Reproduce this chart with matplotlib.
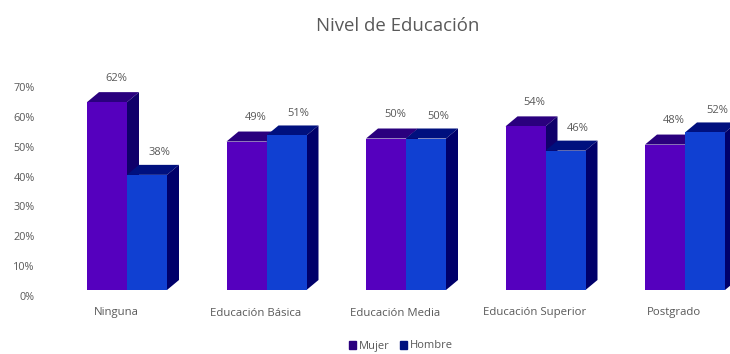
import matplotlib
matplotlib.use("Agg")
import matplotlib.pyplot as plt
from matplotlib.patches import Polygon, Patch
from matplotlib.transforms import offset_copy

categories = ["Ninguna", "Educación Básica", "Educación Media", "Educación Superior", "Postgrado"]
mujer = [62, 49, 50, 54, 48]
hombre = [38, 51, 50, 46, 52]
y_ticks = [0, 10, 20, 30, 40, 50, 60, 70]

W, H = 730, 354
PX_PER_UNIT_X = 139.5
PX_PER_PCT = 3.03
ORIGIN_X, ORIGIN_Y = 127, 290
BAR_W = 40 / PX_PER_UNIT_X
DEPTH_X = 12 / PX_PER_UNIT_X
DEPTH_Y = 10 / PX_PER_PCT

TEXT = "#595959"
FONT = "Open Sans"
plt.rcParams["font.family"] = [FONT, "DejaVu Sans"]

fig = plt.figure(figsize=(W / 100, H / 100), dpi=100, facecolor="white")
ax = fig.add_axes([0, 0, 1, 1])
ax.set_xlim(-ORIGIN_X / PX_PER_UNIT_X, (W - ORIGIN_X) / PX_PER_UNIT_X)
ax.set_ylim(-(H - ORIGIN_Y) / PX_PER_PCT, ORIGIN_Y / PX_PER_PCT)
ax.axis("off")


def bar3d(x0, value, front, top, side, z):
    """Front face through ax.bar, with extruded top and side faces."""
    x1 = x0 + BAR_W
    ax.add_patch(Polygon([(x0, value), (x1, value), (x1 + DEPTH_X, value + DEPTH_Y),
                          (x0 + DEPTH_X, value + DEPTH_Y)], fc=top, ec="none", zorder=z))
    ax.add_patch(Polygon([(x1, 0), (x1 + DEPTH_X, DEPTH_Y), (x1 + DEPTH_X, value + DEPTH_Y),
                          (x1, value)], fc=side, ec="none", zorder=z))
    ax.bar(x0, value, BAR_W, align="edge", color=front, linewidth=0, zorder=z + 0.1)


MUJER_FRONT, MUJER_TOP, MUJER_SIDE = "#5500BE", "#2A007E", "#10006A"
HOMBRE_FRONT, HOMBRE_TOP, HOMBRE_SIDE = "#1040D2", "#00107E", "#00006A"

label_mujer = offset_copy(ax.transData, fig=fig, x=9, y=24, units="dots")
label_hombre = offset_copy(ax.transData, fig=fig, x=12, y=22, units="dots")
label_cat = offset_copy(ax.transData, fig=fig, x=-11, y=-23, units="dots")

for i, (m, h) in enumerate(zip(mujer, hombre)):
    base = 3 * i
    bar3d(i - BAR_W, m, MUJER_FRONT, MUJER_TOP, MUJER_SIDE, 2 + base)
    bar3d(i, h, HOMBRE_FRONT, HOMBRE_TOP, HOMBRE_SIDE, 3 + base)
    ax.text(i - BAR_W / 2, m, f"{m}%", transform=label_mujer, ha="center", va="center",
            fontsize=8, color=TEXT, zorder=50)
    ax.text(i + BAR_W / 2, h, f"{h}%", transform=label_hombre, ha="center", va="center",
            fontsize=8, color=TEXT, zorder=50)
    ax.text(i, 0, categories[i], transform=label_cat, ha="center", va="center",
            fontsize=8.2, color=TEXT, zorder=50)

# Percentage scale sits on its own axis, ahead of the extruded plot plane
tick_ax = fig.add_axes([36 / W, 1 - 296 / H, 20 / W, (296 - 87) / H])
tick_ax.set_ylim(0, 70)
tick_ax.set_yticks(y_ticks)
tick_ax.set_yticklabels([f"{t}%" for t in y_ticks], fontsize=7.8, color=TEXT)
tick_ax.tick_params(axis="y", length=0, pad=1)
tick_ax.set_xticks([])
tick_ax.patch.set_alpha(0)
for spine in tick_ax.spines.values():
    spine.set_visible(False)

fig.text(398 / W, 1 - 26 / H, "Nivel de Educación", ha="center", va="center",
         fontsize=13.4, color=TEXT)

fig.legend(handles=[Patch(color=MUJER_TOP, label="Mujer"), Patch(color=HOMBRE_TOP, label="Hombre")],
           loc="center", bbox_to_anchor=(401 / W, 1 - 346 / H), ncol=2, frameon=False,
           fontsize=8, labelcolor=TEXT, handlelength=0.65, handleheight=0.7,
           handletextpad=0.25, columnspacing=0.9, borderpad=0)

fig.savefig("out.png", dpi=100)
